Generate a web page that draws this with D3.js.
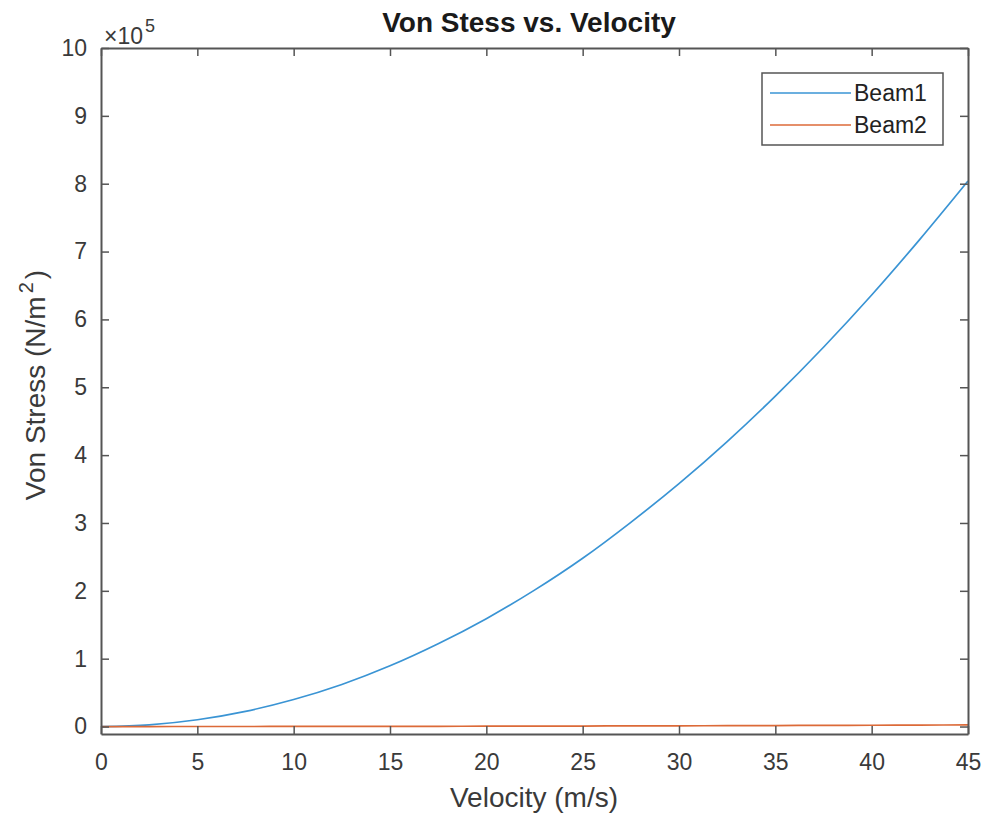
<!DOCTYPE html>
<html>
<head>
<meta charset="utf-8">
<script src="https://cdn.jsdelivr.net/npm/d3@7"></script>
<style>
  body { margin: 0; background: #fff; }
  text { font-family: "Liberation Sans", Arial, sans-serif; }
</style>
</head>
<body>
<div id="chart"></div>
<script>
// velocity samples (m/s) and stress (N/m^2)
var velocity = [0, 2.5, 5, 7.5, 10, 12.5, 15, 17.5, 20, 22.5, 25, 27.5, 30, 32.5, 35, 37.5, 40, 42.5, 45];
var beam1 = [0, 2500, 10000, 22400, 39800, 62000, 89500, 122000, 159000, 201000, 248000, 301000, 358000, 420000, 487000, 559000, 636000, 718000, 804000];
var beam2 = [0, 8, 30, 68, 120, 188, 270, 368, 480, 608, 750, 908, 1080, 1268, 1470, 1688, 1920, 2168, 2430];
var xTicks = [0, 5, 10, 15, 20, 25, 30, 35, 40, 45];
var yTicks = [0, 1, 2, 3, 4, 5, 6, 7, 8, 9, 10];   // x 10^5
var seriesNames = ["Beam1", "Beam2"];
var seriesColors = ["#3a94d4", "#dc6a38"];

function init() {
  var w = 983, h = 816;
  var m = {top: 48, right: 15, bottom: 82, left: 101};
  var axisCol = "#555";

  var svg = d3.select("#chart").append("svg")
    .attr("width", w)
    .attr("height", h);

  var x = d3.scaleLinear().domain([0, 45]).range([m.left, w - m.right]);
  var y = d3.scaleLinear().domain([-11000, 1000000]).range([h - m.bottom, m.top]);

  // lines
  var line = d3.line()
    .x(function(d) { return x(d[0]); })
    .y(function(d) { return y(d[1]); })
    .curve(d3.curveMonotoneX);

  [beam1, beam2].forEach(function(s, i) {
    svg.append("path")
      .datum(velocity.map(function(v, j) { return [v, s[j]]; }))
      .attr("fill", "none")
      .attr("stroke", seriesColors[i])
      .attr("stroke-width", 1.7)
      .attr("d", line);
  });

  // axes: ticks inward, mirrored on top/right
  var tl = 8;
  var fmtY = function(d) { return d / 100000; };
  var gB = svg.append("g").attr("transform", "translate(0," + (h - m.bottom) + ")")
    .call(d3.axisBottom(x).tickValues(xTicks).tickSizeInner(-tl).tickSizeOuter(0).tickPadding(20));
  var gT = svg.append("g").attr("transform", "translate(0," + m.top + ")")
    .call(d3.axisTop(x).tickValues(xTicks).tickSizeInner(-tl).tickSizeOuter(0).tickFormat(""));
  var gL = svg.append("g").attr("transform", "translate(" + m.left + ",0)")
    .call(d3.axisLeft(y).tickValues(yTicks.map(function(d) { return d * 100000; }))
      .tickFormat(fmtY).tickSizeInner(-tl).tickSizeOuter(0).tickPadding(14));
  var gR = svg.append("g").attr("transform", "translate(" + (w - m.right) + ",0)")
    .call(d3.axisRight(y).tickValues(yTicks.map(function(d) { return d * 100000; }))
      .tickSizeInner(-tl).tickSizeOuter(0).tickFormat(""));

  [gB, gT, gL, gR].forEach(function(g) {
    g.select(".domain").attr("stroke", axisCol).attr("stroke-width", 2);
    g.selectAll(".tick line").attr("stroke", axisCol).attr("stroke-width", 1.5);
    g.selectAll(".tick text").attr("fill", "#3a3a3a").attr("font-size", "23px")
      .style("font-family", "'Liberation Sans', Arial, sans-serif");
  });

  // exponent label
  var ex = svg.append("text")
    .attr("x", m.left + 3).attr("y", m.top - 4)
    .attr("fill", "#3a3a3a").attr("font-size", "23px");
  ex.append("tspan").text("\u00d710");
  ex.append("tspan").attr("dy", -12).attr("dx", 2).attr("font-size", "18px").text("5");

  // title
  svg.append("text")
    .attr("x", 529).attr("y", 32)
    .attr("text-anchor", "middle")
    .attr("font-weight", "bold").attr("font-size", "28px").attr("fill", "#1a1a1a")
    .text("Von Stess vs. Velocity");

  // x label
  svg.append("text")
    .attr("x", 534).attr("y", 807)
    .attr("text-anchor", "middle")
    .attr("font-size", "28px").attr("fill", "#3a3a3a")
    .text("Velocity (m/s)");

  // y label
  var yl = svg.append("text")
    .attr("transform", "translate(45,385) rotate(-90)")
    .attr("text-anchor", "middle")
    .attr("font-size", "28px").attr("fill", "#3a3a3a");
  yl.append("tspan").text("Von Stress (N/m");
  yl.append("tspan").attr("dy", -12).attr("dx", 3).attr("font-size", "20px").text("2");
  yl.append("tspan").attr("dy", 12).attr("dx", 3).text(")");

  // legend
  var lg = svg.append("g").attr("transform", "translate(762,73)");
  lg.append("rect")
    .attr("width", 181).attr("height", 72)
    .attr("fill", "#fff").attr("stroke", "#555").attr("stroke-width", 1.5);
  seriesNames.forEach(function(n, i) {
    var yy = 20 + i * 32;
    lg.append("line")
      .attr("x1", 8).attr("x2", 89).attr("y1", yy).attr("y2", yy)
      .attr("stroke", seriesColors[i]).attr("stroke-width", 1.7);
    lg.append("text")
      .attr("x", 92).attr("y", yy + 8)
      .attr("font-size", "23px").attr("fill", "#222")
      .text(n);
  });
}
window.onload = init;
</script>
</body>
</html>
